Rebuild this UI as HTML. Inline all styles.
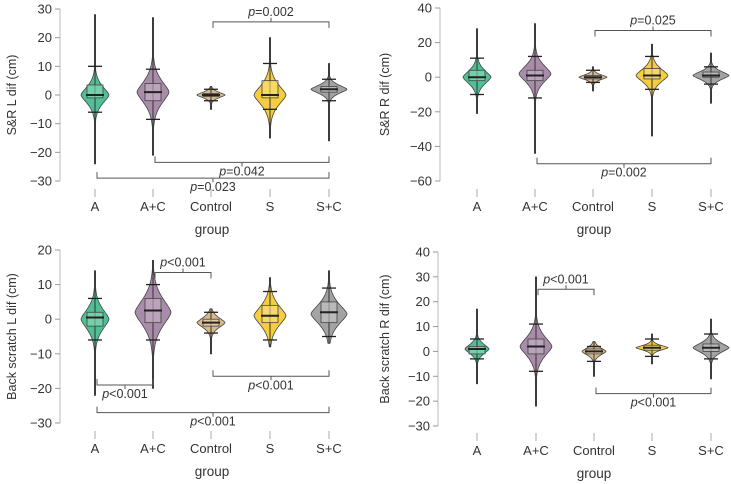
<!DOCTYPE html>
<html><head><meta charset="utf-8"><style>
body{margin:0;background:#fff;}
svg{display:block;font-family:"Liberation Sans","DejaVu Sans",sans-serif;}
</style></head><body>
<svg id="chart" width="731" height="484" viewBox="0 0 731 484"></svg>
<script>
const groups = ["A","A+C","Control","S","S+C"];
const colors = ["#4fc095","#a88ca9","#d8b98c","#f6cd3e","#a3a3a3"];
const boxColors = ["#8fd9bb","#c7b2c8","#ead4b0","#f9e07e","#c8c8c8"];
// panel 1: S&R L
const p1Min = [-24,-21,-5,-15,-16];
const p1Max = [28,27,3,20,11];
const p1Center = [0,1,0,0,2];
const p1Spread = [3,4,1,3.5,1.5];
const p1Q1 = [-1,-2,-0.5,-1,1];
const p1Q3 = [3.5,4,0.5,5,3];
const p1Med = [0,1,0,0,2];
const p1WLo = [-6,-8.5,-2,-5,-2];
const p1WHi = [10,9,2,11,5.5];
// panel 2: S&R R
const p2Min = [-21,-44,-8,-34,-15];
const p2Max = [28,31,6,19,14];
const p2Center = [0,2,0,1,1];
const p2Spread = [4,5,1.5,4,2.5];
const p2Q1 = [-2,-2,-1,-1,0];
const p2Q3 = [4,4,1,5,3];
const p2Med = [0,1,0,1,1];
const p2WLo = [-10,-12,-3,-7,-4];
const p2WHi = [11,12,4,12,6];
// panel 3: Back scratch L
const p3Min = [-22,-20,-10,-8,-7];
const p3Max = [14,17,3,12,14];
const p3Center = [0,2,-1,1,1.5];
const p3Spread = [3,4,1.5,3,3];
const p3Q1 = [-2,-1,-2,-1,-1];
const p3Q3 = [2,6,0,4,5];
const p3Med = [0.5,2.5,-1,1,2];
const p3WLo = [-6,-6,-4,-6,-5];
const p3WHi = [6,10,2,8,9];
// panel 4: Back scratch R
const p4Min = [-13,-22,-10,-5,-11];
const p4Max = [17,30,4,7,13];
const p4Center = [1,2,0,1.5,1.5];
const p4Spread = [2,4,1.5,1,2];
const p4Q1 = [-1,-1,-1,0.5,0];
const p4Q3 = [2,5,1,2.5,3];
const p4Med = [1,2,0,1.5,1.5];
const p4WLo = [-3,-8,-4,-2,-3];
const p4WHi = [5,11,2,5,7];
const p1Ticks = [30,20,10,0,-10,-20,-30];
const p2Ticks = [40,20,0,-20,-40,-60];
const p3Ticks = [20,10,0,-10,-20,-30];
const p4Ticks = [40,30,20,10,0,-10,-20,-30];

const NS="http://www.w3.org/2000/svg";
const svg=document.getElementById('chart');
function mk(tag,attrs,parent,text){const e=document.createElementNS(NS,tag);for(const k in attrs)e.setAttribute(k,attrs[k]);if(text!==undefined)e.textContent=text;(parent||svg).appendChild(e);return e;}

const panels=[
 {title:"S&R L dif (cm)",ticks:p1Ticks,top:30,bot:-30,y0:9,y1:181,ax:60,xs:[95,153,211,270,329],titleX:12,xlabY:211,grpY:234,xtickY:193,
  mn:p1Min,mx:p1Max,c:p1Center,s:p1Spread,q1:p1Q1,q3:p1Q3,med:p1Med,wl:p1WLo,wh:p1WHi,W:[14,16,14,16,18],
  br:[{a:2,b:4,v:25.5,dir:1,lab:"=0.002"},{a:1,b:4,v:-23.5,dir:-1,lab:"=0.042"},{a:0,b:4,v:-29,dir:-1,lab:"=0.023"}]},
 {title:"S&R R dif (cm)",ticks:p2Ticks,top:40,bot:-60,y0:8,y1:181,ax:440,xs:[477,535,593,652,711],titleX:385,xlabY:211,grpY:234,xtickY:193,
  mn:p2Min,mx:p2Max,c:p2Center,s:p2Spread,q1:p2Q1,q3:p2Q3,med:p2Med,wl:p2WLo,wh:p2WHi,W:[14,16,14,16,18],
  br:[{a:2,b:4,v:27,dir:1,lab:"=0.025"},{a:1,b:4,v:-50,dir:-1,lab:"=0.002"}]},
 {title:"Back scratch L dif (cm)",ticks:p3Ticks,top:20,bot:-30,y0:250,y1:423,ax:60,xs:[95,153,211,270,329],titleX:12,xlabY:453,grpY:476,xtickY:435,
  mn:p3Min,mx:p3Max,c:p3Center,s:p3Spread,q1:p3Q1,q3:p3Q3,med:p3Med,wl:p3WLo,wh:p3WHi,W:[14,18,14,16,18],
  br:[{a:1,b:2,v:13.5,dir:1,lab:"<0.001"},{a:0,b:1,v:-19,dir:-1,lab:"<0.001"},{a:2,b:4,v:-16.5,dir:-1,lab:"<0.001"},{a:0,b:4,v:-27,dir:-1,lab:"<0.001"}]},
 {title:"Back scratch R dif (cm)",ticks:p4Ticks,top:40,bot:-30,y0:252,y1:426,ax:438,xs:[477,536,594,652,711],titleX:385,xlabY:455,grpY:478,xtickY:437,
  mn:p4Min,mx:p4Max,c:p4Center,s:p4Spread,q1:p4Q1,q3:p4Q3,med:p4Med,wl:p4WLo,wh:p4WHi,W:[12,16,12,16,18],
  br:[{a:1,b:2,v:25,dir:1,lab:"<0.001"},{a:2,b:4,v:-17,dir:-1,lab:"<0.001"}]}
];

panels.forEach((P,pi)=>{
 const g=mk('g',{});
 
 
 const Y=v=>P.y0+(P.top-v)/(P.top-P.bot)*(P.y1-P.y0);
 const ax=mk('line',{x1:P.ax,x2:P.ax,y1:P.y0,y2:P.y1,stroke:'#bbb','stroke-width':1},g);
 
 
 P.ticks.forEach(t=>{
  mk('line',{x1:P.ax-5,x2:P.ax,y1:Y(t),y2:Y(t),stroke:'#999'},g);
  const tl=mk('text',{x:P.ax-8,y:Y(t)+4.5,'text-anchor':'end','font-size':13,fill:'#333'},g,t<0?'\u2212'+(-t):String(t));
  
  
 });
 const yt=mk('text',{x:0,y:0,'font-size':12.5,fill:'#333','text-anchor':'middle',transform:`translate(${P.titleX+4},${(P.y0+P.y1)/2}) rotate(-90)`},g,P.title);
 
 
 groups.forEach((gn,i)=>{
  const x=P.xs[i];
  mk('line',{x1:x,x2:x,y1:P.xtickY-4,y2:P.xtickY+4,stroke:'#aaa'},g);
  const xl=mk('text',{x:x,y:P.xlabY,'text-anchor':'middle','font-size':13,fill:'#333'},g,gn);
  
  
  const W=P.W[i],n=120,pts=[];
  for(let k=0;k<=n;k++){const v=P.mn[i]+(P.mx[i]-P.mn[i])*k/n;
   const z=Math.abs(v-P.c[i])/P.s[i];
   const w=Math.max(0.6,W*Math.exp(-0.6*Math.pow(z,1.5)));pts.push([v,w]);}
  let d='M'+pts.map(p=>(x+p[1]).toFixed(1)+','+Y(p[0]).toFixed(1)).join('L');
  d+='L'+pts.slice().reverse().map(p=>(x-p[1]).toFixed(1)+','+Y(p[0]).toFixed(1)).join('L')+'Z';
  const vi=mk('path',{d:d,fill:colors[i],stroke:'#444','stroke-width':0.8},g);
  
  
  mk('line',{x1:x,x2:x,y1:Y(P.mx[i]),y2:Y(P.mn[i]),stroke:'#333','stroke-width':1},g);
  const bx=mk('rect',{x:x-8,y:Y(P.q3[i]),width:16,height:Math.max(1,Y(P.q1[i])-Y(P.q3[i])),fill:boxColors[i],'fill-opacity':0.6,stroke:'#444','stroke-width':0.8},g);
  
  
  mk('line',{x1:x-9,x2:x+9,y1:Y(P.med[i]),y2:Y(P.med[i]),stroke:'#222','stroke-width':2},g);
  [P.wl[i],P.wh[i]].forEach(w=>mk('line',{x1:x-7,x2:x+7,y1:Y(w),y2:Y(w),stroke:'#222','stroke-width':1.3},g));
 });
 const gl=mk('text',{x:(P.xs[0]+P.xs[4])/2,y:P.grpY,'text-anchor':'middle','font-size':13.5,fill:'#333'},g,'group');
 
 
 P.br.forEach(b=>{
  const xa=P.xs[b.a]+2,xb=P.xs[b.b],y=Y(b.v),h=6*b.dir,xm=(xa+xb)/2;
  const bp=mk('path',{d:`M${xa},${y+h}V${y}H${xb}V${y+h}M${xm},${y}v${-4*b.dir}`,fill:'none',stroke:'#555','stroke-width':1},g);
  
  
  const ty=b.dir>0?y-6:y+13;
  const t=mk('text',{x:xm,y:ty,'text-anchor':'middle','font-size':12.5,fill:'#333'},g);
  
  
  mk('tspan',{'font-style':'italic'},t,'p');
  mk('tspan',{},t,b.lab);
 });
});
</script>
</body></html>
